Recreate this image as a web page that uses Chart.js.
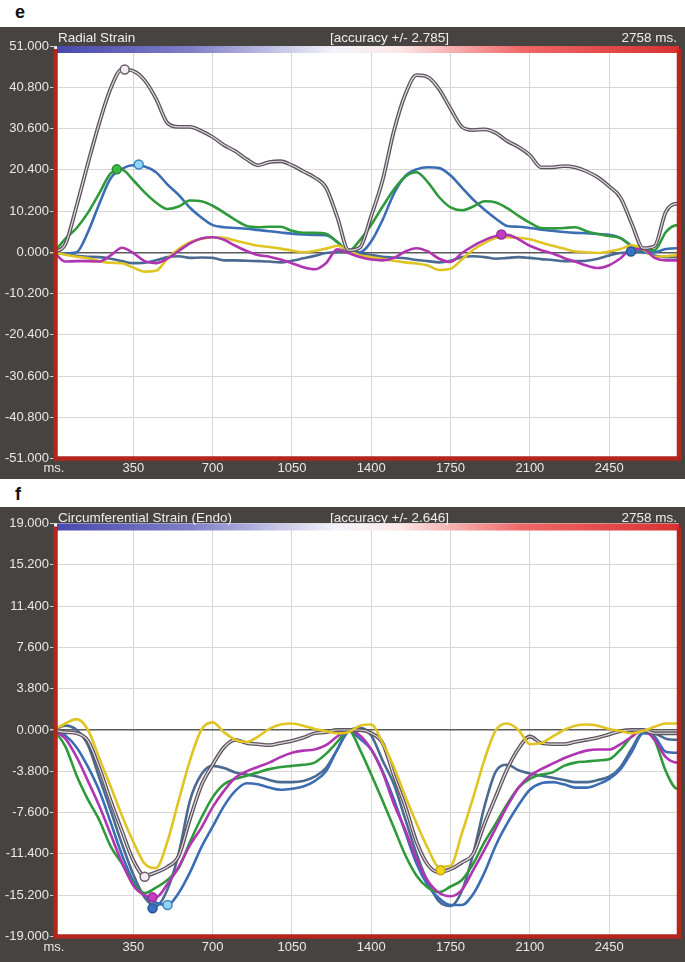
<!DOCTYPE html>
<html>
<head>
<meta charset="utf-8">
<script src="https://cdn.jsdelivr.net/npm/chart.js@4.4.1/dist/chart.umd.min.js"></script>
<style>
  body { margin: 0; background: #fff; font-family: "Liberation Sans", Arial, sans-serif; }
  #page { position: relative; width: 685px; height: 962px; overflow: hidden; }
  .letter { position: absolute; left: 15px; font-weight: bold; font-size: 18px; line-height: 18px; color: #111; }
  .panel { position: absolute; left: 0; width: 685px; background: #474340; }
  .panel canvas { position: absolute; left: 0; top: 0; }
  .hdr { position: absolute; top: 2px; font-size: 13.5px; line-height: 18px; color: #eeeeee; white-space: nowrap; z-index: 2; }
</style>
</head>
<body>
<div id="page">
  <div class="letter" style="top:3px">e</div>
  <div class="panel" style="top:27px;height:452px">
    <canvas id="radialChart" width="685" height="452" style="width:685px;height:452px"></canvas>
    <div class="hdr" style="left:58px">Radial Strain</div>
    <div class="hdr" style="left:330px">[accuracy +/- 2.785]</div>
    <div class="hdr" style="right:8px">2758 ms.</div>
  </div>
  <div class="letter" style="top:485px">f</div>
  <div class="panel" style="top:507px;height:455px">
    <canvas id="circChart" width="685" height="455" style="width:685px;height:455px"></canvas>
    <div class="hdr" style="left:58px">Circumferential Strain (Endo)</div>
    <div class="hdr" style="left:330px">[accuracy +/- 2.646]</div>
    <div class="hdr" style="right:8px">2758 ms.</div>
  </div>
</div>
<script>
// time axis (ms), shared by every trace
const timeMs = [0,50,100,150,200,250,300,350,400,450,500,550,600,650,700,750,800,850,900,950,
  1000,1050,1100,1150,1200,1250,1300,1350,1400,1450,1500,1550,1600,1650,1700,1750,1800,1850,1900,1950,
  2000,2050,2100,2150,2200,2250,2300,2350,2400,2450,2500,2550,2600,2650,2700,2750,2758];
const xTicks = [0, 350, 700, 1050, 1400, 1750, 2100, 2450];

// e - radial strain
const radialTicks = [-51, -40.8, -30.6, -20.4, -10.2, 0, 10.2, 20.4, 30.6, 40.8, 51];
const radialGray = [0,2,11.5,22,32,40.5,45.2,44.8,42.5,38,32,31,31,30,28.5,26.5,25,23,21.5,22.3,
  22.5,21.5,20,18.5,16,8.7,0.5,1.2,9,17.8,30,39,43.8,43.3,40.3,35.5,31,30.2,30.4,29.5,
  27.5,26,24,21,21,21.3,21,20,18.5,16.3,13.5,7,1,1.5,10,12,12];
const radialGreen = [0,3.3,6,9.8,14.6,19.5,20.4,17.8,14.8,12.3,10.7,11.3,12.8,12.6,11.5,9.8,8,6.5,6.2,6.3,
  6.3,5.3,4.8,4.8,4.6,2.5,0.3,3,6.8,11.3,15.5,18.7,19.8,17.3,13.6,11.1,10.4,11.3,12.6,12.3,
  10.9,9,7.3,6,5.9,6,6.2,5.2,4.5,4,3.5,1.5,0.5,0.5,5,6.7,6.7];
const radialBlue = [0,-0.3,0,5,12,18.3,20.6,21.5,21.2,19.8,16.8,14.2,11,8.6,6.7,6.2,6,5.8,5.5,5.2,
  4.9,4.6,4.4,4.3,4.2,2.6,0.2,0,2.7,8,14.5,18.8,20.5,21,20.8,19,16,13,10.5,8.3,
  6.5,6.3,6,5.6,5.3,5,4.8,4.7,4.5,4.3,3.5,1.5,0,0,0.8,1,1];
const radialYellow = [0,-0.6,-1.1,-1.5,-2.2,-2.6,-2.7,-3.8,-4.8,-4.6,-1.6,0.8,2.5,3.3,3.7,3.6,2.9,2.2,1.6,1.3,
  0.9,0.4,0,0.3,0.9,1.6,0.5,-0.8,-1.2,-1.7,-2.1,-2.5,-2.8,-3.3,-4.4,-4.1,-1.8,0.6,2.3,3.5,
  3.7,3.6,3.2,2.4,1.6,0.9,0.2,0,-0.2,0.2,0.8,1.7,0.8,-1.1,-1,-0.7,-0.7];
const radialMagenta = [0,-2.3,-2.2,-2.2,-2.3,-0.8,1.1,-0.2,-2.2,-2.7,-1.6,0.3,2.2,3.4,3.7,3.1,1.6,0.3,-0.7,-1.1,
  -1.8,-2.7,-3.7,-4.2,-2.7,0.7,-0.2,-1.2,-1.8,-2,-1.4,0.2,1,0.2,-1.6,-2.4,-0.2,1.6,3,4,
  4.3,3.2,1.6,0.5,-0.3,-1.4,-2.3,-3.3,-3.9,-3.2,-1.5,0.8,0.8,-1.4,-2,-2,-2];
const radialSteel = [0,-0.5,-0.9,-1.1,-1.2,-1.6,-2.2,-2.7,-2.6,-2,-1.2,-1,-1.4,-1.3,-1.4,-2,-2,-2.1,-2.2,-2.3,
  -2.5,-2.1,-1.5,-0.9,-0.2,0,0,-0.3,-0.7,-1.1,-1.3,-1.5,-1.9,-2.2,-2.5,-2.1,-1.2,-1,-1.2,-1.6,
  -1.4,-1.2,-1.4,-1.7,-1.9,-2.2,-2.2,-2.1,-1.6,-0.8,-0.2,0,0,-0.8,-1.2,-1.2,-1.2];
const radialMarkerMs = [312, 277, 374, 1974, 2546];
const radialMarkerVal = [45.2, 20.5, 21.7, 4.4, 0.2];
const radialMarkerKind = ["gray", "green", "cyan", "magenta", "blue"];

// f - circumferential strain (endo)
const circTicks = [-19, -15.2, -11.4, -7.6, -3.8, 0, 3.8, 7.6, 11.4, 15.2, 19];
const circYellow = [0,0.6,1,0,-2.6,-5.2,-7.9,-10.3,-12.3,-12.7,-10.3,-6.5,-2.8,0,0.7,-0.2,-0.9,-1.1,-0.6,0.1,
  0.5,0.6,0.4,0.1,-0.1,-0.3,-0.2,0.4,0.5,-1.2,-3.4,-6.1,-8.6,-10.9,-12.6,-12.5,-9.5,-6.2,-2.7,0,
  0.6,0,-1.3,-1.2,-0.6,0,0.4,0.5,0.4,0.1,-0.1,-0.3,-0.1,0.3,0.6,0.6,0.6];
const circGray = [0,-0.2,-0.3,-1,-3.5,-6.5,-9.3,-12,-13.4,-13.1,-12.6,-11.6,-8.2,-5.1,-3.2,-1.6,-0.9,-1.2,-1.3,-1.4,
  -1.2,-1,-0.7,-0.3,-0.2,0,0,0,-0.3,-1.2,-4.2,-7,-10.3,-12.4,-13.1,-12.8,-12.2,-11.4,-8.6,-6.1,
  -3.6,-1.7,-0.6,-1.2,-1.3,-1.3,-1.1,-0.9,-0.7,-0.4,-0.1,0,0,-0.3,-0.3,-0.3,-0.3];
const circGreen = [0,-1.5,-4.2,-6.4,-8.3,-10.7,-12.3,-14.1,-15,-14.5,-13.8,-12.7,-10.3,-8.1,-6.2,-5,-4.5,-4.2,-3.9,-3.6,
  -3.4,-3.3,-3.2,-3,-2.2,-1.1,0,-1.8,-4.1,-6.5,-9,-11.5,-13.4,-14.5,-14.9,-14.4,-13.8,-12.3,-10.3,-8.6,
  -6.8,-5.3,-4.5,-4.1,-3.9,-3.3,-3,-2.9,-2.8,-2.7,-1.8,-0.6,0,-0.9,-3.8,-5.4,-5.4];
const circMagenta = [0,-0.8,-2.5,-4.7,-7,-9.6,-12.2,-14.3,-15.2,-15.4,-14.2,-12.6,-10.6,-9,-7.1,-5.6,-4.4,-3.8,-3.4,-3,
  -2.5,-2.1,-1.9,-1.8,-1.4,-0.6,0,-0.5,-1.8,-3.9,-6.8,-9.2,-11.9,-13.9,-15,-15.3,-14.7,-12.9,-11,-9,
  -7,-5.3,-4.2,-3.6,-3.1,-2.6,-2.2,-1.9,-1.8,-1.8,-1.3,-0.6,0,-0.9,-2.5,-3,-3];
const circBlue = [0,-0.5,-1.6,-3.4,-5.6,-8.5,-11.5,-13.9,-15.2,-15.9,-16.1,-15,-13.1,-10.8,-8.9,-7,-5.6,-4.9,-5,-5.3,
  -5.5,-5.4,-5.2,-4.7,-3.8,-1.8,-0.1,-0.8,-1.8,-3.8,-6.4,-9.4,-12.3,-14.3,-15.5,-16.1,-16.1,-15.1,-13.1,-10.6,
  -8.6,-6.9,-5.5,-4.9,-4.8,-5,-5.3,-5.3,-5,-4.5,-3.6,-2,-0.3,-0.6,-2,-2.1,-2.1];
const circSteel = [0,0.4,0,-1.4,-4.4,-7.4,-10.5,-13.3,-15.4,-16.2,-14.7,-11.4,-6.5,-4.1,-3.3,-3.5,-3.9,-4.1,-4.3,-4.6,
  -4.8,-4.8,-4.7,-4.3,-3.5,-1.8,-0.1,0.2,-0.5,-2.8,-5,-8.2,-11.4,-14,-15.8,-16.2,-14.8,-11.4,-7,-3.8,
  -3.2,-3.7,-4,-4.2,-4.4,-4.6,-4.8,-4.8,-4.6,-4.3,-3.4,-1.7,-0.2,-0.3,-0.8,-0.9,-0.9];
const circMarkerMs = [400, 435, 435, 501, 1706];
const circMarkerVal = [-13.5, -15.4, -16.4, -16.1, -12.9];
const circMarkerKind = ["gray", "magenta", "blue", "cyan", "yellow"];

const lineColors = {
  gray: "#5c545c", grayInner: "#e2dae2", green: "#2f9a3c", blue: "#3b6db4",
  steel: "#4a6a92", yellow: "#e0c424", magenta: "#b035b3"
};
const markerFill = { gray: "#f6eaf2", green: "#3cba42", cyan: "#90d6f2", magenta: "#c43cc4", blue: "#3a70c2", yellow: "#f2d41e" };
const markerEdge = { gray: "#6a6068", green: "#2a8a30", cyan: "#3a86c0", magenta: "#9a2a9a", blue: "#28569c", yellow: "#c8a810" };

Chart.defaults.font.family = '"Liberation Sans", Arial, sans-serif';

const pts = vals => timeMs.map((t, i) => ({ x: t, y: vals[i] }));

// white plot, red border and the blue-white-red bar on top
const framePlugin = {
  id: "frame",
  beforeDraw(chart) {
    const { ctx, chartArea: a } = chart;
    ctx.save();
    ctx.fillStyle = "#fff";
    ctx.fillRect(a.left, a.top, a.right - a.left, a.bottom - a.top);
    ctx.restore();
  },
  afterDatasetsDraw(chart) {
    const { ctx, chartArea: a } = chart;
    ctx.save();
    ctx.strokeStyle = "#b3261e";
    ctx.lineWidth = 4.5;
    ctx.beginPath();
    ctx.moveTo(a.left + 1.5, a.top + 3);
    ctx.lineTo(a.left + 1.5, a.bottom);
    ctx.lineTo(a.right, a.bottom);
    ctx.lineTo(a.right, a.top + 3);
    ctx.stroke();
    const g = ctx.createLinearGradient(a.left, 0, a.right, 0);
    g.addColorStop(0, "#3838a6");
    g.addColorStop(0.22, "#7474c4");
    g.addColorStop(0.45, "#f2f2fa");
    g.addColorStop(0.55, "#fbe6e6");
    g.addColorStop(0.75, "#ee5a5a");
    g.addColorStop(1, "#d42020");
    ctx.globalAlpha = 0.92;
    ctx.fillStyle = g;
    ctx.fillRect(a.left + 3, a.top, a.right - a.left - 3, 7);
    ctx.restore();
  }
};

function strainChart(id, cfg) {
  const datasets = [];
  datasets.push({
    data: cfg.markerMs.map((t, i) => ({ x: t, y: cfg.markerVal[i] })),
    showLine: false,
    pointRadius: 4.5,
    pointBorderWidth: 1.5,
    pointBackgroundColor: cfg.markerKind.map(k => markerFill[k]),
    pointBorderColor: cfg.markerKind.map(k => markerEdge[k])
  });
  cfg.series.forEach(s => {
    if (s.key === "gray") {
      datasets.push({ data: pts(s.vals), borderColor: lineColors.grayInner, borderWidth: 1.2 });
      datasets.push({ data: pts(s.vals), borderColor: lineColors.gray, borderWidth: 3.8 });
    } else {
      datasets.push({ data: pts(s.vals), borderColor: lineColors[s.key], borderWidth: 2.6 });
    }
  });
  datasets.forEach(d => {
    if (d.showLine !== false) { d.pointRadius = 0; d.cubicInterpolationMode = "monotone"; }
  });

  return new Chart(document.getElementById(id), {
    type: "line",
    data: { datasets },
    options: {
      responsive: false,
      animation: false,
      events: [],
      layout: { padding: { top: cfg.padTop, right: 5, left: 0, bottom: 0 } },
      plugins: { legend: { display: false }, tooltip: { enabled: false } },
      scales: {
        x: {
          type: "linear",
          min: 0,
          max: 2758,
          afterBuildTicks: s => { s.ticks = xTicks.map(v => ({ value: v })); },
          afterFit: s => { s.height = cfg.xHeight; },
          border: { display: false },
          grid: { color: "#d6d6d6", lineWidth: 1, drawTicks: false },
          ticks: {
            color: "#e8e8e8",
            font: { size: 13 },
            padding: cfg.xPad,
            maxRotation: 0,
            autoSkip: false,
            callback: v => (v === 0 ? "ms." : String(v))
          }
        },
        y: {
          min: cfg.ticks[0],
          max: cfg.ticks[cfg.ticks.length - 1],
          afterBuildTicks: s => { s.ticks = cfg.ticks.map(v => ({ value: v })); },
          afterFit: s => { s.width = 54; },
          border: { display: false },
          grid: {
            color: c => (c.tick && c.tick.value === 0 ? "#5a5a5a" : "#d6d6d6"),
            lineWidth: c => (c.tick && c.tick.value === 0 ? 1.5 : 1),
            tickColor: "#d0d0d0",
            tickLength: 4
          },
          ticks: {
            color: "#e8e8e8",
            font: { size: 13 },
            padding: 1,
            autoSkip: false,
            callback: v => Number(v).toFixed(3)
          }
        }
      }
    },
    plugins: [framePlugin]
  });
}

strainChart("radialChart", {
  ticks: radialTicks, padTop: 19, xHeight: 20.5, xPad: 2,
  markerMs: radialMarkerMs, markerVal: radialMarkerVal, markerKind: radialMarkerKind,
  series: [
    { key: "gray", vals: radialGray },
    { key: "magenta", vals: radialMagenta },
    { key: "yellow", vals: radialYellow },
    { key: "green", vals: radialGreen },
    { key: "blue", vals: radialBlue },
    { key: "steel", vals: radialSteel }
  ]
});

strainChart("circChart", {
  ticks: circTicks, padTop: 16.5, xHeight: 25.5, xPad: 3,
  markerMs: circMarkerMs, markerVal: circMarkerVal, markerKind: circMarkerKind,
  series: [
    { key: "yellow", vals: circYellow },
    { key: "gray", vals: circGray },
    { key: "magenta", vals: circMagenta },
    { key: "green", vals: circGreen },
    { key: "blue", vals: circBlue },
    { key: "steel", vals: circSteel }
  ]
});
</script>
</body>
</html>
